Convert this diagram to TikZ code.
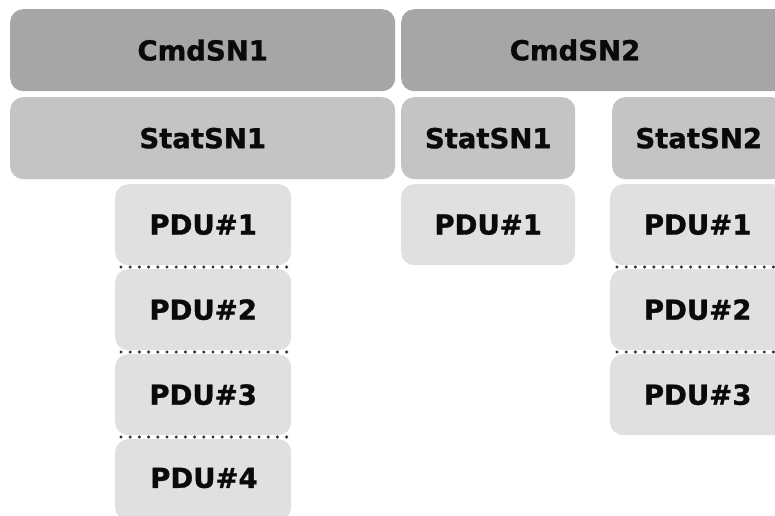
\documentclass[tikz,border=0pt]{standalone}
\usepackage{fontspec}
\setmainfont{DejaVu Sans}[BoldFeatures={FakeBold=1.2}]
\definecolor{cmdgray}{HTML}{A6A6A6}
\definecolor{statgray}{HTML}{C3C4C3}
\definecolor{pdugray}{HTML}{E0E0E0}
\definecolor{dotgray}{HTML}{333333}
\definecolor{txt}{HTML}{0A0A0A}
\tikzset{
  box/.style={rounded corners=13pt, inner sep=0pt, anchor=north west},
  cmdbox/.style={box, fill=cmdgray},
  statbox/.style={box, fill=statgray},
  pdubox/.style={box, fill=pdugray},
  lbl/.style={font=\bfseries\fontsize{27.5}{30}\selectfont, text=txt, inner sep=0pt},
  sep/.style={draw=dotgray, line width=3.4pt, line cap=round, dash pattern=on 0pt off 9.2pt}
}
\begin{document}
\begin{tikzpicture}[x=1pt,y=-1pt]
\clip (0,0) rectangle (775,515);
\fill[white] (0,0) rectangle (775,515);
% top row
\node[cmdbox, minimum width=385pt, minimum height=82pt] (cmd1) at (10,9) {};
\node[lbl] (cmd1t) at (cmd1.center) {CmdSN1};
\node[cmdbox, minimum width=390pt, minimum height=82pt] (cmd2) at (401,9) {};
\node[lbl] (cmd2t) at (575,50) {CmdSN2};
% second row
\node[statbox, minimum width=385pt, minimum height=82pt] (st1) at (10,97) {};
\node[lbl] (st1t) at (st1.center) {StatSN1};
\node[statbox, minimum width=174pt, minimum height=82pt] (st2) at (401,97) {};
\node[lbl] (st2t) at (st2.center) {StatSN1};
\node[statbox, minimum width=173pt, minimum height=82pt] (st3) at (612,97) {};
\node[lbl] (st3t) at (st3.center) {StatSN2};
% left column PDUs
\node[pdubox, minimum width=176pt, minimum height=81pt] (a1) at (115,184) {};
\node[lbl] (a1t) at (a1.center) {PDU\#1};
\node[pdubox, minimum width=176pt, minimum height=81pt] (a2) at (115,269) {};
\node[lbl] (a2t) at (a2.center) {PDU\#2};
\node[pdubox, minimum width=176pt, minimum height=81pt] (a3) at (115,354) {};
\node[lbl] (a3t) at (a3.center) {PDU\#3};
\node[pdubox, minimum width=176pt, minimum height=81pt] (a4) at (115,439) {};
\node[lbl] (a4t) at (204,478) {PDU\#4};
% middle column
\node[pdubox, minimum width=174pt, minimum height=81pt] (b1) at (401,184) {};
\node[lbl] (b1t) at (b1.center) {PDU\#1};
% right column
\node[pdubox, minimum width=175pt, minimum height=81pt] (c1) at (610,184) {};
\node[lbl] (c1t) at (c1.center) {PDU\#1};
\node[pdubox, minimum width=175pt, minimum height=81pt] (c2) at (610,269) {};
\node[lbl] (c2t) at (c2.center) {PDU\#2};
\node[pdubox, minimum width=175pt, minimum height=81pt] (c3) at (610,354) {};
\node[lbl] (c3t) at (c3.center) {PDU\#3};
% separators
\coordinate (s1l) at (121,267); \coordinate (s1r) at (287,267);
\coordinate (s2l) at (121,352); \coordinate (s2r) at (287,352);
\coordinate (s3l) at (121,437); \coordinate (s3r) at (287,437);
\coordinate (r1l) at (617,267); \coordinate (r1r) at (780,267);
\coordinate (r2l) at (617,352); \coordinate (r2r) at (780,352);
\draw[sep] (s1l) -- (s1r);
\draw[sep] (s2l) -- (s2r);
\draw[sep] (s3l) -- (s3r);
\draw[sep] (r1l) -- (r1r);
\draw[sep] (r2l) -- (r2r);
\end{tikzpicture}
\end{document}
